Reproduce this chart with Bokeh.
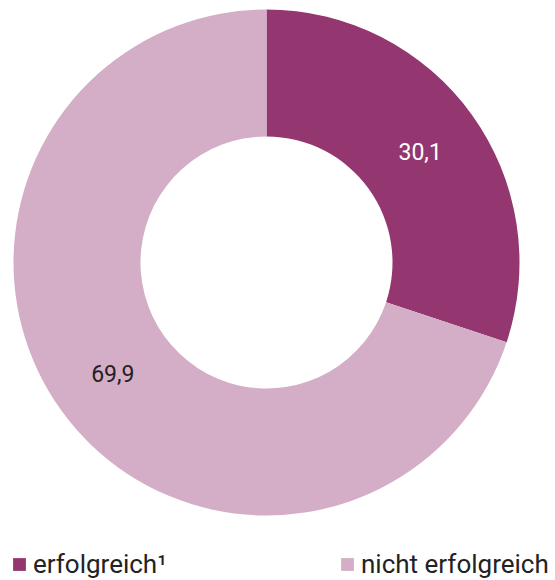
import math
from bokeh.plotting import figure
from bokeh.models import Range1d, ColumnDataSource, Legend, LegendItem
from bokeh.core.properties import value
from bokeh.embed import file_html
from bokeh.resources import INLINE

categories = ["erfolgreich¹", "nicht erfolgreich"]
values = [30.1, 69.9]
value_labels = ["30,1", "69,9"]
colors = ["#943670", "#d3aec6"]
label_colors = ["#ffffff", "#222222"]

W, H = 555, 580
cx, cy = 266, H - 262
r_out, r_in = 253, 126

total = sum(values)
starts, ends, lx, ly = [], [], [], []
acc = 0.0
for v in values:
    a0 = math.pi / 2 - 2 * math.pi * acc / total
    a1 = math.pi / 2 - 2 * math.pi * (acc + v) / total
    starts.append(a1)
    ends.append(a0)
    mid = (a0 + a1) / 2
    rm = (r_out + r_in) / 2
    lx.append(cx + rm * math.cos(mid))
    ly.append(cy + rm * math.sin(mid))
    acc += v

src = ColumnDataSource(dict(start=starts, end=ends, color=colors, cat=categories,
                            lx=lx, ly=ly, lab=value_labels, lc=label_colors))

p = figure(width=W, height=H, output_backend="svg", toolbar_location=None,
           x_range=Range1d(0, W), y_range=Range1d(0, H), min_border=0)
p.axis.visible = False
p.grid.visible = False
p.outline_line_color = None

r = p.annular_wedge(x=cx, y=cy, inner_radius=r_in, outer_radius=r_out,
                    start_angle="start", end_angle="end", fill_color="color",
                    line_color=None, source=src)

p.text(x="lx", y="ly", text="lab", text_color="lc", source=src,
       text_font=value("Roboto"), text_font_size="23px",
       text_align="center", text_baseline="middle")

items = [LegendItem(label=categories[i], renderers=[r], index=i) for i in range(len(categories))]
legend = Legend(items=items, orientation="horizontal", location=(11, 1),
                glyph_width=16, glyph_height=16, label_standoff=6,
                label_width=306, spacing=0, padding=0, margin=0,
                border_line_color=None, background_fill_alpha=0,
                label_text_font="Roboto", label_text_font_size="26px",
                label_text_color="#222222")
p.add_layout(legend)

open("out.html", "w").write(file_html(p, INLINE))
